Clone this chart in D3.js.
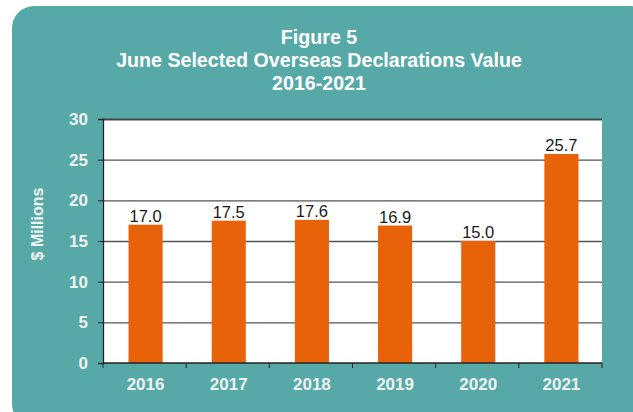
<!DOCTYPE html>
<html>
<head>
<meta charset="utf-8">
<script src="https://cdn.jsdelivr.net/npm/d3@7"></script>
<style>
  body { margin: 0; background: #fff; }
  svg { display: block; font-family: "Liberation Sans", Arial, sans-serif; }
</style>
</head>
<body>
<div id="chart"></div>
<script>
// chart values
const years = ["2016", "2017", "2018", "2019", "2020", "2021"];
const values = [17.0, 17.5, 17.6, 16.9, 15.0, 25.7];
const yTicks = [0, 5, 10, 15, 20, 25, 30];
const titleLines = ["Figure 5", "June Selected Overseas Declarations Value", "2016-2021"];

const width = 633, height = 412;
const margin = { top: 119, right: 31, bottom: 49, left: 103 };

const svg = d3.select("#chart")
    .append("svg")
    .attr("width", width)
    .attr("height", height);

// teal panel
svg.append("rect")
    .attr("x", 12)
    .attr("y", 6)
    .attr("width", 640)
    .attr("height", 420)
    .attr("rx", 22)
    .attr("fill", "#57a9a8");

// title (font is a bit condensed in the original)
svg.append("g")
    .attr("transform", "translate(319,0) scale(0.935,1)")
    .selectAll("text")
    .data(titleLines)
    .join("text")
    .attr("x", 0)
    .attr("y", (d, i) => 44 + i * 23)
    .attr("text-anchor", "middle")
    .attr("fill", "#fff")
    .attr("font-weight", "bold")
    .attr("font-size", 21)
    .text((d) => d);

const x = d3.scaleBand()
    .domain(years)
    .range([margin.left, width - margin.right])
    .paddingInner(0.59)
    .paddingOuter(0.295);

const y = d3.scaleLinear()
    .domain([0, 30])
    .range([height - margin.bottom, margin.top]);

// plot area
svg.append("rect")
    .attr("x", margin.left)
    .attr("y", margin.top)
    .attr("width", width - margin.left - margin.right)
    .attr("height", y(0) - margin.top)
    .attr("fill", "#fff");

// gridlines
svg.append("g")
    .selectAll("line")
    .data(yTicks.filter((d) => d > 0))
    .join("line")
    .attr("x1", margin.left)
    .attr("x2", width - margin.right)
    .attr("y1", (d) => y(d) + 0.5)
    .attr("y2", (d) => y(d) + 0.5)
    .attr("stroke", (d) => (d === 30 ? "#3c4a4a" : "#555"))
    .attr("stroke-width", (d) => (d === 30 ? 2 : 1.3));

// bars
svg.append("g")
    .selectAll("rect")
    .data(values)
    .join("rect")
    .attr("x", (d, i) => x(years[i]) + 1)
    .attr("y", (d) => y(d))
    .attr("width", x.bandwidth())
    .attr("height", (d) => y(0) - y(d))
    .attr("fill", "#e8620a");

// value labels
svg.append("g")
    .selectAll("text")
    .data(values)
    .join("text")
    .attr("x", (d, i) => x(years[i]) + 1 + x.bandwidth() / 2)
    .attr("y", (d) => y(d) - 3)
    .attr("text-anchor", "middle")
    .attr("font-size", 16.5)
    .attr("fill", "#1a1a1a")
    .text((d) => d.toFixed(1));

// y axis
const yAxis = svg.append("g")
    .attr("transform", `translate(${margin.left},0)`)
    .call(d3.axisLeft(y).tickValues(yTicks).tickSize(5).tickPadding(10));
yAxis.select(".domain").attr("stroke", "#222").attr("stroke-width", 1.3);
yAxis.selectAll(".tick line").attr("stroke", "#222");
yAxis.selectAll(".tick text")
    .attr("fill", "#eef4f4")
    .attr("font-weight", "bold")
    .attr("font-size", 17)
    .attr("font-family", "Liberation Sans, Arial, sans-serif");

// x axis: ticks at category boundaries
const xAxisG = svg.append("g").attr("transform", `translate(0,${y(0)})`);
xAxisG.append("line")
    .attr("x1", margin.left)
    .attr("x2", width - margin.right)
    .attr("stroke", "#222")
    .attr("stroke-width", 1.3);
const step = x.step();
xAxisG.selectAll("line.tk")
    .data(d3.range(years.length + 1))
    .join("line")
    .attr("class", "tk")
    .attr("x1", (d) => margin.left + d * step)
    .attr("x2", (d) => margin.left + d * step)
    .attr("y1", 0)
    .attr("y2", 5)
    .attr("stroke", "#222");
xAxisG.selectAll("text")
    .data(years)
    .join("text")
    .attr("x", (d) => x(d) + 1 + x.bandwidth() / 2)
    .attr("y", 27)
    .attr("text-anchor", "middle")
    .attr("fill", "#eef4f4")
    .attr("font-weight", "bold")
    .attr("font-size", 17)
    .text((d) => d);

// y axis title
svg.append("text")
    .attr("transform", "translate(43,224) rotate(-90)")
    .attr("text-anchor", "middle")
    .attr("fill", "#eef4f4")
    .attr("font-weight", "bold")
    .attr("font-size", 16)
    .text("$ Millions");
</script>
</body>
</html>
